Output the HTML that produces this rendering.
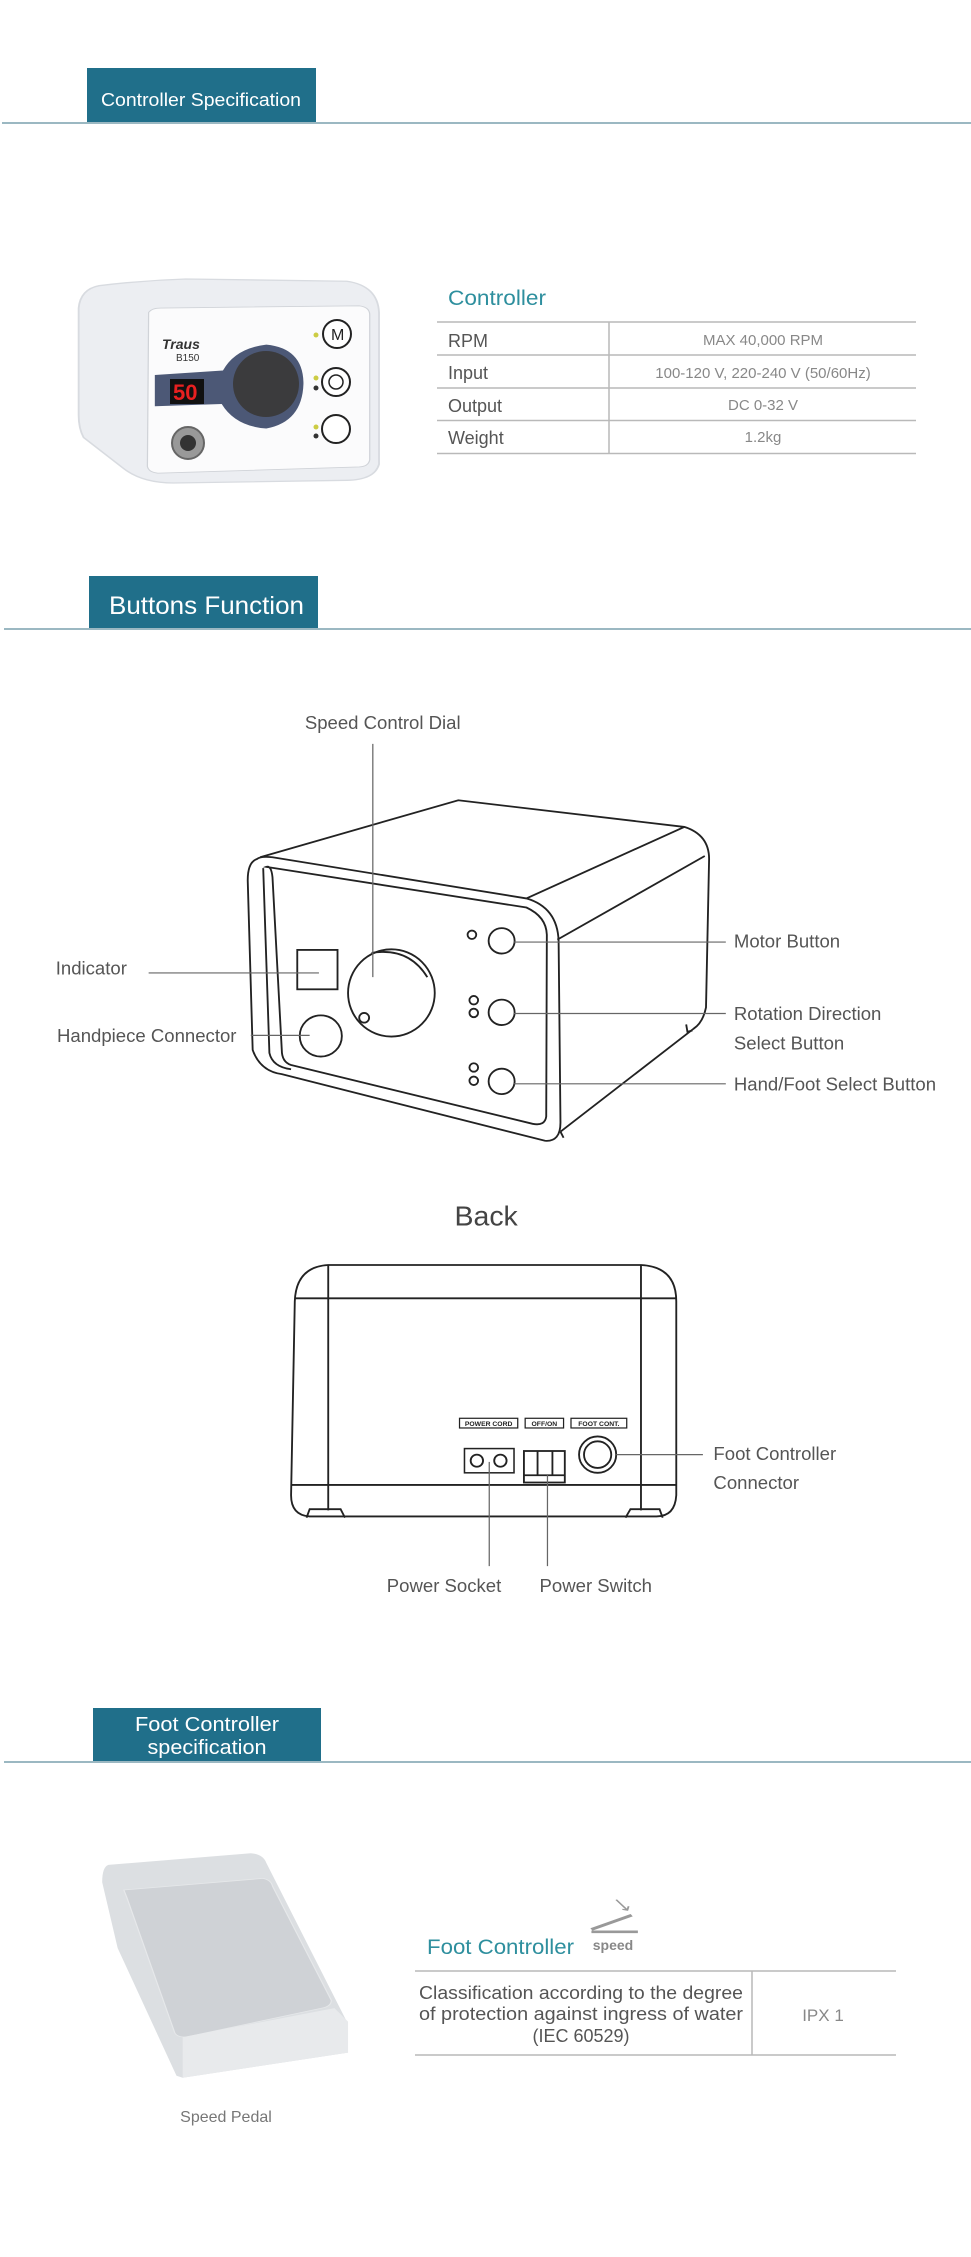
<!DOCTYPE html>
<html><head><meta charset="utf-8"><style>
html,body{margin:0;padding:0;background:#fff;overflow:hidden;}
svg{display:block;}
text{font-family:"Liberation Sans",sans-serif;}
</style></head><body>
<svg width="971" height="2257" viewBox="0 0 971 2257" xmlns="http://www.w3.org/2000/svg">
<!-- Section 1 header -->
<rect x="87" y="68" width="229" height="55" fill="#206f8a"/>
<text x="101" y="106" font-size="18" fill="#fff" textLength="200" lengthAdjust="spacingAndGlyphs">Controller Specification</text>
<line x1="2" y1="123" x2="971" y2="123" stroke="#9bb8c2" stroke-width="2"/>

<!-- controller photo -->
<g transform="scale(0.6193,0.4464)">
<path d="M160,640 Q230,628 300,625 L560,630 Q610,640 612,700 L612,1040 Q605,1075 560,1076 L280,1082 Q230,1082 200,1050 L135,980 Q127,960 127,930 L127,690 Q130,648 160,640 Z" fill="#eceef2" stroke="#d8dbe0" stroke-width="3"/>
<path d="M240,700 Q245,690 260,690 L580,685 Q597,688 597,705 L597,1030 Q595,1045 580,1046 L255,1060 Q240,1058 238,1045 Z" fill="#fbfbfc" stroke="#d0d3d8" stroke-width="2"/>
<path d="M250,840 L360,830 Q380,780 430,772 Q490,780 490,860 Q488,945 430,960 Q380,955 358,905 L250,910 Z" fill="#2d3b5e" opacity="0.85"/>
</g>
<text x="162" y="349" font-size="14" font-style="italic" font-weight="bold" fill="#333">Traus</text>
<text x="176" y="361" font-size="10" fill="#333">B150</text>
<rect x="170" y="379" width="34" height="25" fill="#111"/>
<text x="173" y="400" font-size="22" font-weight="bold" fill="#e82020">50</text>
<circle cx="266" cy="384" r="33" fill="#3b3b3d"/>
<circle cx="188" cy="443" r="16" fill="#999" stroke="#666" stroke-width="2"/>
<circle cx="188" cy="443" r="8" fill="#333"/>
<circle cx="337" cy="334" r="14" fill="#fff" stroke="#222" stroke-width="2"/>
<text x="331" y="340" font-size="16" fill="#222">M</text>
<circle cx="336" cy="382" r="14" fill="#fff" stroke="#222" stroke-width="2"/>
<circle cx="336" cy="382" r="7" fill="none" stroke="#222" stroke-width="1.5"/>
<circle cx="336" cy="429" r="14" fill="#fff" stroke="#222" stroke-width="2"/>
<circle cx="316" cy="335" r="2.5" fill="#cc4"/><circle cx="316" cy="378" r="2.5" fill="#cc4"/><circle cx="316" cy="388" r="2.5" fill="#333"/>
<circle cx="316" cy="427" r="2.5" fill="#cc4"/><circle cx="316" cy="436" r="2.5" fill="#333"/>

<!-- Controller table -->
<text x="448" y="305" font-size="21" fill="#2e8f9e" textLength="98" lengthAdjust="spacingAndGlyphs">Controller</text>
<g stroke="#b9b9b9" stroke-width="1.5">
<line x1="437" y1="322" x2="916" y2="322"/><line x1="437" y1="355" x2="916" y2="355"/>
<line x1="437" y1="388" x2="916" y2="388"/><line x1="437" y1="420.5" x2="916" y2="420.5"/>
<line x1="437" y1="453.5" x2="916" y2="453.5"/><line x1="609" y1="322" x2="609" y2="453.5"/>
</g>
<g font-size="18" fill="#555">
<text x="448" y="347">RPM</text><text x="448" y="379">Input</text><text x="448" y="412">Output</text><text x="448" y="444">Weight</text>
</g>
<g font-size="15" fill="#888" text-anchor="middle">
<text x="763" y="345">MAX 40,000 RPM</text><text x="763" y="378">100-120 V, 220-240 V (50/60Hz)</text>
<text x="763" y="410">DC 0-32 V</text><text x="763" y="442">1.2kg</text>
</g>

<!-- Section 2 header -->
<rect x="89" y="576" width="229" height="53" fill="#206f8a"/>
<text x="109" y="614" font-size="25" fill="#fff" textLength="195" lengthAdjust="spacingAndGlyphs">Buttons Function</text>
<line x1="4" y1="629" x2="971" y2="629" stroke="#9bb8c2" stroke-width="2"/>

<g transform="translate(0,650) scale(0.6193,0.6059)">
<!-- Front line drawing -->
<g fill="none" stroke="#222" stroke-width="3">
<path d="M420,342 L740,248 L1105,292 Q1145,305 1145,345 L1140,590 Q1135,615 1120,625 L905,795"/>
<path d="M850,410 L1105,292"/>
<path d="M900,478 L1138,340"/>
<path d="M415,345 Q400,350 400,380 L408,660 Q420,695 455,700 L880,810 Q905,812 905,780 L902,480 Q900,425 850,410 L440,342 Q420,340 415,345 Z"/>
<path d="M430,358 L850,425 Q882,440 883,470 L882,770 Q880,786 860,782 L470,685 Q455,680 455,660 L440,375 Q438,355 430,358 Z"/>
<path d="M425,360 L435,665 Q440,688 470,692"/>
<rect x="480" y="495" width="65" height="65"/>
<circle cx="518" cy="637" r="34"/>
<ellipse cx="632" cy="566" rx="70" ry="72"/>
<path d="M600,500 Q660,490 690,540"/>
<circle cx="588" cy="607" r="8"/>
<circle cx="762" cy="470" r="7"/><circle cx="765" cy="578" r="7"/><circle cx="765" cy="599" r="7"/>
<circle cx="765" cy="689" r="7"/><circle cx="765" cy="711" r="7"/>
<circle cx="810" cy="480" r="21"/><circle cx="810" cy="598" r="21"/><circle cx="810" cy="712" r="21"/>
<path d="M1108,618 L1110,630 L1118,628"/><path d="M905,795 L910,805"/>
</g>
<g stroke="#666" stroke-width="2">
<line x1="602" y1="155" x2="602" y2="540"/>
<line x1="830" y1="482" x2="1172" y2="482"/>
<line x1="830" y1="600" x2="1172" y2="600"/>
<line x1="830" y1="716" x2="1172" y2="716"/>
<line x1="240" y1="533" x2="515" y2="533"/>
<line x1="405" y1="636" x2="500" y2="636"/>
</g>
<g font-size="30" fill="#555">
<text x="618" y="130" text-anchor="middle">Speed Control Dial</text>
<text x="1185" y="491">Motor Button</text>
<text x="1185" y="611">Rotation Direction</text>
<text x="1185" y="659">Select Button</text>
<text x="1185" y="727">Hand/Foot Select Button</text>
<text x="90" y="536">Indicator</text>
<text x="92" y="647">Handpiece Connector</text>
<text x="785" y="950" font-size="46" text-anchor="middle" fill="#444">Back</text>
</g>

<!-- Back drawing -->
<g fill="none" stroke="#222" stroke-width="3">
<path d="M530,1015 L1035,1015 Q1092,1018 1092,1075 L1092,1395 Q1090,1430 1060,1430 L500,1430 Q470,1428 470,1395 L476,1075 Q478,1018 530,1015 Z"/>
<line x1="530" y1="1015" x2="530" y2="1420"/><line x1="1035" y1="1015" x2="1035" y2="1420"/>
<line x1="476" y1="1070" x2="1092" y2="1070"/><line x1="470" y1="1378" x2="1092" y2="1378"/>
<path d="M495,1432 L500,1418 L550,1418 L557,1432"/><path d="M1010,1432 L1018,1418 L1065,1418 L1070,1432"/>
<rect x="750" y="1318" width="80" height="40" stroke-width="2.5"/>
<circle cx="770" cy="1338" r="10"/><circle cx="808" cy="1338" r="10"/>
<rect x="846" y="1322" width="66" height="52"/>
<line x1="868" y1="1322" x2="868" y2="1362"/><line x1="892" y1="1322" x2="892" y2="1362"/><line x1="846" y1="1362" x2="912" y2="1362"/>
<circle cx="965" cy="1328" r="30"/><circle cx="965" cy="1328" r="22"/>
<rect x="742" y="1268" width="94" height="16" stroke-width="2"/><rect x="848" y="1268" width="62" height="16" stroke-width="2"/><rect x="922" y="1268" width="90" height="16" stroke-width="2"/>
</g>
<g font-size="11" font-weight="bold" fill="#222" text-anchor="middle">
<text x="789" y="1281">POWER CORD</text><text x="879" y="1281">OFF/ON</text><text x="967" y="1281">FOOT CONT.</text>
</g>
<g stroke="#666" stroke-width="2">
<line x1="790" y1="1340" x2="790" y2="1512"/><line x1="884" y1="1362" x2="884" y2="1512"/>
<line x1="995" y1="1328" x2="1135" y2="1328"/>
</g>
<g font-size="30" fill="#555">
<text x="717" y="1555" text-anchor="middle">Power Socket</text>
<text x="962" y="1555" text-anchor="middle">Power Switch</text>
<text x="1152" y="1337">Foot Controller</text>
<text x="1152" y="1385">Connector</text>
</g>
</g>

<!-- Section 3 -->
<rect x="93" y="1708" width="228" height="54" fill="#206f8a"/>
<text x="207" y="1731" font-size="20" fill="#fff" text-anchor="middle" textLength="144" lengthAdjust="spacingAndGlyphs">Foot Controller</text>
<text x="207" y="1754" font-size="20" fill="#fff" text-anchor="middle" textLength="119" lengthAdjust="spacingAndGlyphs">specification</text>
<line x1="4" y1="1762" x2="971" y2="1762" stroke="#9bb8c2" stroke-width="2"/>

<g transform="translate(0,1650) scale(0.6193,0.3871)">
<path d="M175,555 L405,525 Q425,528 430,550 L560,960 L562,1040 L295,1105 L285,1100 L190,770 L165,600 Q165,560 175,555 Z" fill="#dcdfe2"/>
<path d="M200,620 L425,590 Q438,595 440,610 L535,905 Q535,920 520,925 L300,1000 Q285,1000 282,988 L205,640 Z" fill="#cfd2d6" stroke="#e6e8ea" stroke-width="2"/>
<path d="M295,1000 L540,925 L562,960 L562,1040 L295,1105 Z" fill="#e8eaec"/>
<path d="M955,728 L1030,728 M955,722 L1020,685" stroke="#999" stroke-width="7" fill="none"/>
<path d="M995,645 L1013,672 M1005,670 L1013,672 L1015,662" stroke="#999" stroke-width="3" fill="none"/>
</g>
<text x="226" y="2122" font-size="16" fill="#777" text-anchor="middle">Speed Pedal</text>
<text x="427" y="1954" font-size="21" fill="#2e8f9e" textLength="147" lengthAdjust="spacingAndGlyphs">Foot Controller</text>
<text x="613" y="1950" font-size="14" font-weight="bold" fill="#888" text-anchor="middle">speed</text>

<g stroke="#b9b9b9" stroke-width="1.5">
<line x1="415" y1="1971" x2="896" y2="1971"/><line x1="415" y1="2055" x2="896" y2="2055"/>
<line x1="752" y1="1971" x2="752" y2="2055"/>
</g>
<g font-size="18" fill="#555" text-anchor="middle">
<text x="581" y="1999" textLength="324" lengthAdjust="spacingAndGlyphs">Classification according to the degree</text>
<text x="581" y="2020" textLength="324" lengthAdjust="spacingAndGlyphs">of protection against ingress of water</text>
<text x="581" y="2042">(IEC 60529)</text>
</g>
<text x="823" y="2021" font-size="17" fill="#888" text-anchor="middle">IPX 1</text>
</svg>
</body></html>
